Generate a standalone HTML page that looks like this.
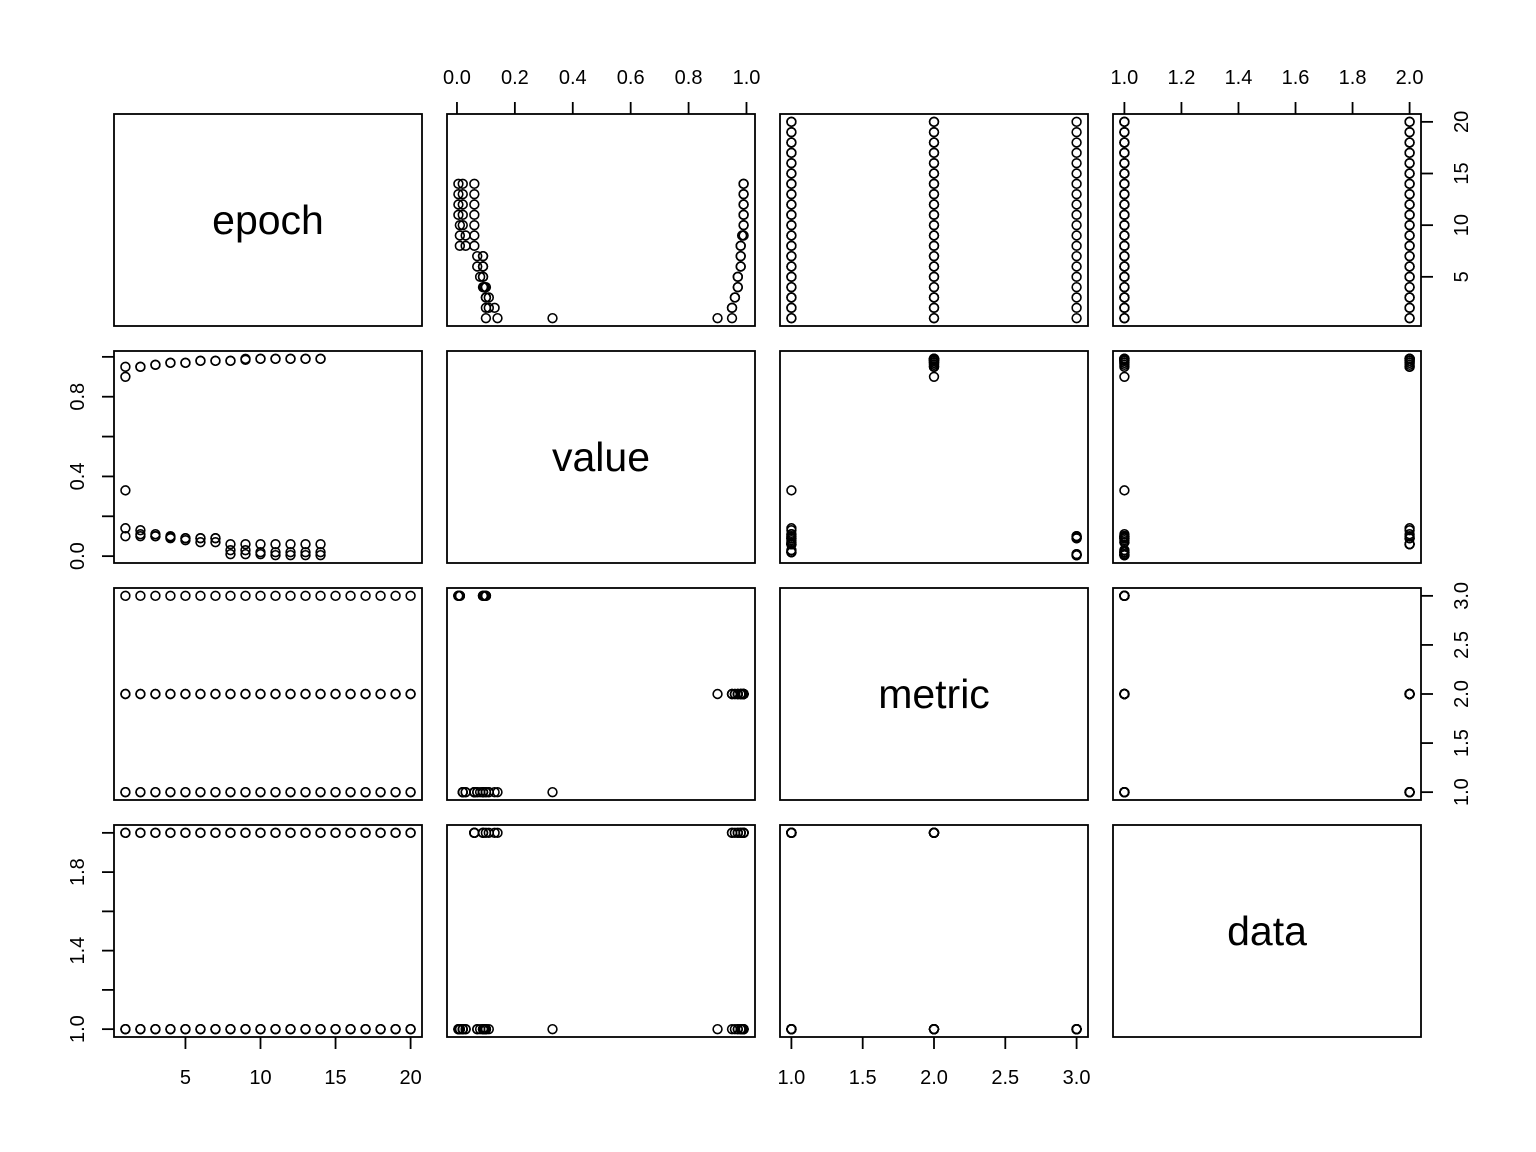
<!DOCTYPE html>
<html><head><meta charset="utf-8"><style>
html,body{margin:0;padding:0;background:#fff;}
svg{display:block;font-family:"Liberation Sans",Arial,sans-serif;}
</style></head><body>
<svg id="chart" width="1536" height="1152" viewBox="0 0 1536 1152" xmlns="http://www.w3.org/2000/svg"></svg>
<script>
// ---- data ----
const varNames = ["epoch","value","metric","data"];
const epochs = [1,2,3,4,5,6,7,8,9,10,11,12,13,14,15,16,17,18,19,20];
const seriesMetric = [1,1,2,2,3];
const seriesData = [1,2,1,2,1];
const valuesM1D1 = [0.33,0.11,0.10,0.09,0.08,0.07,0.07,0.03,0.03,0.02,0.02,0.02,0.02,0.02,null,null,null,null,null,null];
const valuesM1D2 = [0.14,0.13,0.11,0.10,0.09,0.09,0.09,0.06,0.06,0.06,0.06,0.06,0.06,0.06,null,null,null,null,null,null];
const valuesM2D1 = [0.90,0.95,0.96,0.97,0.97,0.98,0.98,0.98,0.985,0.99,0.99,0.99,0.99,0.99,null,null,null,null,null,null];
const valuesM2D2 = [0.95,0.95,0.96,0.97,0.97,0.98,0.98,0.98,0.99,0.99,0.99,0.99,0.99,0.99,null,null,null,null,null,null];
const valuesM3D1 = [0.10,0.10,0.10,0.095,0.09,0.09,0.09,0.01,0.01,0.01,0.005,0.005,0.005,0.005,null,null,null,null,null,null];
const epochTicks = [5,10,15,20];
const valueTicks = [0,0.2,0.4,0.6,0.8,1.0];
const valueLeftLabels = ["0.0","","0.4","","0.8",""];
const valueTopLabels = ["0.0","0.2","0.4","0.6","0.8","1.0"];
const metricTicks = [1,1.5,2,2.5,3];
const metricLabels = ["1.0","1.5","2.0","2.5","3.0"];
const dataTicks = [1,1.2,1.4,1.6,1.8,2.0];
const dataTopLabels = ["1.0","1.2","1.4","1.6","1.8","2.0"];
const dataLeftLabels = ["1.0","","1.4","","1.8",""];

// ---- build rows ----
const seriesValues = [valuesM1D1,valuesM1D2,valuesM2D1,valuesM2D2,valuesM3D1];
const rows = [];
seriesValues.forEach((vals,s)=>{
  epochs.forEach((e,i)=>rows.push([e, vals[i], seriesMetric[s], seriesData[s]]));
});

// ---- layout ----
const colX = [114,447,780,1113], rowY = [114,351,588,825], PW = 308, PH = 212;
const ranges = varNames.map((_,k)=>{
  const v = rows.map(r=>r[k]).filter(x=>x!==null);
  const mn = Math.min(...v), mx = Math.max(...v), d = (mx-mn)*0.04;
  return [mn-d, mx+d];
});
const sx = (k,c,v)=>colX[c] + (v-ranges[k][0])/(ranges[k][1]-ranges[k][0])*PW;
const sy = (k,r,v)=>rowY[r]+PH - (v-ranges[k][0])/(ranges[k][1]-ranges[k][0])*PH;

const svg = document.getElementById('chart');
const NS = "http://www.w3.org/2000/svg";
function mk(tag, attrs, parent){
  const el = document.createElementNS(NS, tag);
  for (const a in attrs) el.setAttribute(a, attrs[a]);
  (parent||svg).appendChild(el);
  return el;
}

for (let r=0;r<4;r++){
  for (let c=0;c<4;c++){
    const g = mk('g',{});
    
    
    const box = mk('rect',{x:colX[c],y:rowY[r],width:PW,height:PH,fill:'none',stroke:'#000','stroke-width':1.8},g);
    
    
    if (r===c){
      const t = mk('text',{x:colX[c]+PW/2,y:rowY[r]+PH/2+14,'text-anchor':'middle','font-size':41,fill:'#000'},g);
      t.textContent = varNames[r];
      
      
    } else {
      rows.forEach(row=>{
        const xv=row[c], yv=row[r];
        if (xv===null||yv===null) return;
        const p = mk('circle',{cx:sx(c,c,xv),cy:sy(r,r,yv),r:4.4,fill:'none',stroke:'#000','stroke-width':1.6},g);
        
        
      });
    }
  }
}

function axis(side, k, idx, ticks, labels, name){
  const g = mk('g',{});
  
  
  ticks.forEach((t,i)=>{
    if (side==='top'||side==='bottom'){
      const x = sx(k,idx,t);
      const y0 = side==='top'? rowY[0] : rowY[3]+PH;
      const y1 = side==='top'? y0-12 : y0+12;
      mk('line',{x1:x,x2:x,y1:y0,y2:y1,stroke:'#000','stroke-width':1.8},g);
      if (labels[i]){
        const tx = mk('text',{x:x,y:side==='top'?84:1084,'text-anchor':'middle','font-size':20,fill:'#000'},g);
        tx.textContent = labels[i];
        
        
      }
    } else {
      const y = sy(k,idx,t);
      const x0 = side==='left'? colX[0] : colX[3]+PW;
      const x1 = side==='left'? x0-12 : x0+12;
      mk('line',{x1:x0,x2:x1,y1:y,y2:y,stroke:'#000','stroke-width':1.8},g);
      if (labels[i]){
        const lx = side==='left'? 84 : 1468;
        const tx = mk('text',{x:lx,y:y,'text-anchor':'middle','font-size':20,fill:'#000',transform:'rotate(-90 '+lx+' '+y+')'},g);
        tx.textContent = labels[i];
        
        
      }
    }
  });
}
axis('top',1,1,valueTicks,valueTopLabels,'top-axis-value');
axis('top',3,3,dataTicks,dataTopLabels,'top-axis-data');
axis('bottom',0,0,epochTicks,epochTicks.map(String),'bottom-axis-epoch');
axis('bottom',2,2,metricTicks,metricLabels,'bottom-axis-metric');
axis('left',1,1,valueTicks,valueLeftLabels,'left-axis-value');
axis('left',3,3,dataTicks,dataLeftLabels,'left-axis-data');
axis('right',0,0,epochTicks,epochTicks.map(String),'right-axis-epoch');
axis('right',2,2,metricTicks,metricLabels,'right-axis-metric');
</script>
</body></html>
